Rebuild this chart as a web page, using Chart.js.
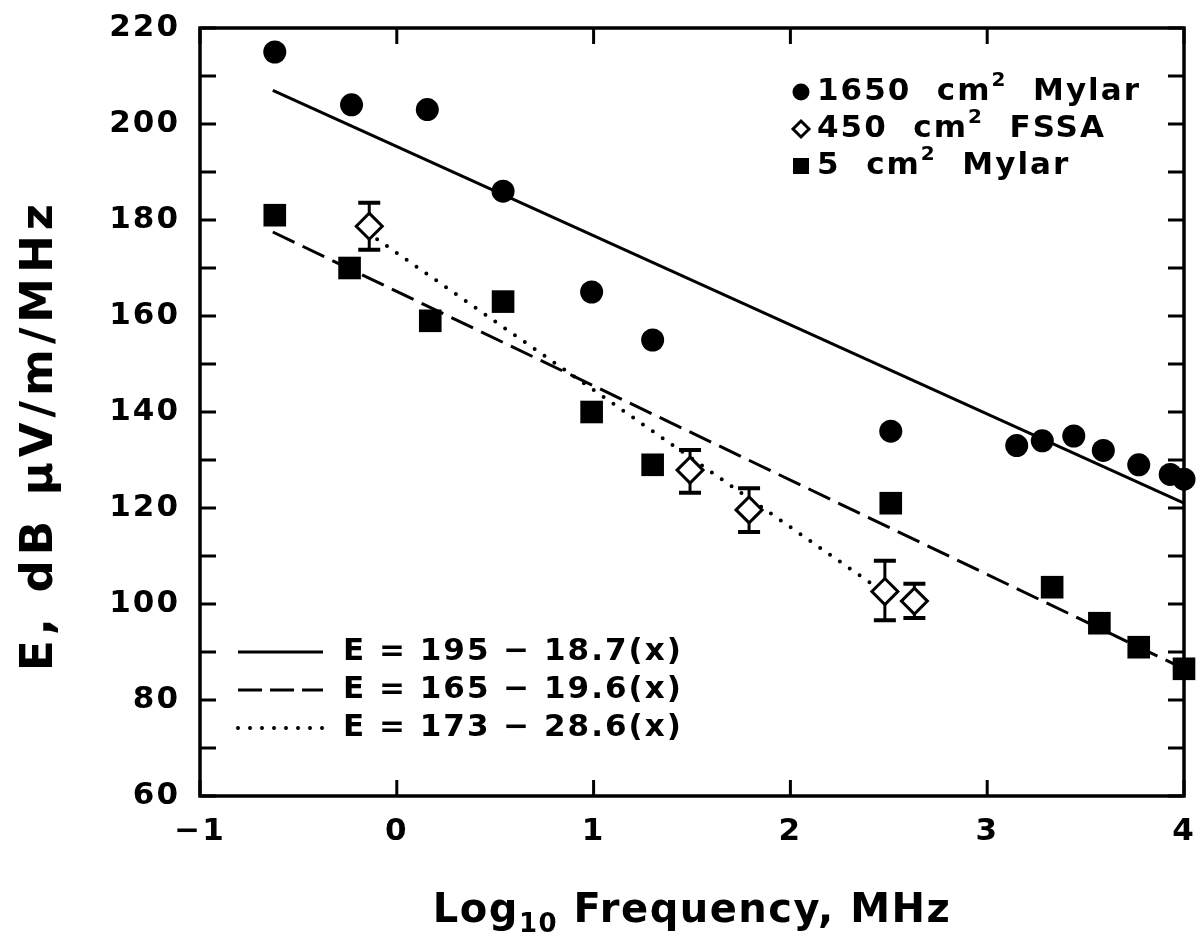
<!DOCTYPE html>
<html>
<head>
<meta charset="utf-8">
<title>E vs Log10 Frequency</title>
<script src="https://cdn.jsdelivr.net/npm/chart.js@4.4.1/dist/chart.umd.min.js"></script>
<style>
  html, body { margin: 0; padding: 0; background: #fff; }
  #chart { display: block; }
</style>
</head>
<body>
<canvas id="chart" width="1200" height="951"></canvas>
<script>
// Data
const mylar1650X = [-0.62, -0.23, 0.155, 0.54, 0.99, 1.30, 2.51, 3.15, 3.28, 3.44, 3.59, 3.77, 3.93, 4.00];
const mylar1650Y = [215, 204, 203, 186, 165, 155, 136, 133, 134, 135, 132, 129, 127, 126];

const mylar5X = [-0.62, -0.24, 0.17, 0.54, 0.99, 1.30, 2.51, 3.33, 3.57, 3.77, 4.00];
const mylar5Y = [181, 170, 159, 163, 140, 129, 121, 103.5, 96, 91, 86.5];

const fssaX = [-0.14, 1.49, 1.79, 2.48, 2.63];
const fssaY = [178.7, 127.9, 119.6, 102.6, 100.6];
const fssaLow = [173.8, 123.2, 115.0, 96.6, 97.1];
const fssaHigh = [183.6, 132.1, 124.1, 109.0, 104.2];

// Fit lines, end points
const fitSolidX = [-0.63, 4];
const fitSolidY = [207, 121];
const fitDashX = [-0.63, 4];
const fitDashY = [177.5, 86.5];
const fitDotX = [-0.1, 2.48];
const fitDotY = [176, 102.3];

// Axes
const xTicks = [-1, 0, 1, 2, 3, 4];
const yTicks = [60, 80, 100, 120, 140, 160, 180, 200, 220];
const yTickMarks = [60, 70, 80, 90, 100, 110, 120, 130, 140, 150, 160, 170, 180, 190, 200, 210, 220];

// Legend texts
const legendAreas = ['1650', '450', '5'];
const legendNames = ['Mylar', 'FSSA', 'Mylar'];
const fitLabels = ['E = 195 \u2212 18.7(x)', 'E = 165 \u2212 19.6(x)', 'E = 173 \u2212 28.6(x)'];

const FONT = '"DejaVu Sans", sans-serif';

const toXY = (xs, ys) => xs.map((x, i) => ({ x: x, y: ys[i] }));

// Draws a run of text pieces (for sub/superscripts)
const drawRich = (ctx, parts, x, y, align) => {
  let total = 0;
  parts.forEach(p => {
    ctx.font = `bold ${p.size}px ${FONT}`;
    p.w = ctx.measureText(p.t).width;
    total += p.w;
  });
  let cx = align === 'center' ? x - total / 2 : x;
  parts.forEach(p => {
    ctx.font = `bold ${p.size}px ${FONT}`;
    ctx.fillText(p.t, cx, y + (p.dy || 0));
    cx += p.w;
  });
};

const strokeSample = (ctx, style, x0, x1, y) => {
  ctx.save();
  ctx.strokeStyle = '#000';
  if (style === 'solid') {
    ctx.lineWidth = 3;
  } else if (style === 'dash') {
    ctx.lineWidth = 3;
    ctx.setLineDash([24, 8]);
  } else {
    ctx.lineWidth = 4;
    ctx.lineCap = 'round';
    ctx.setLineDash([0, 12]);
  }
  ctx.beginPath();
  ctx.moveTo(x0, y);
  ctx.lineTo(x1, y);
  ctx.stroke();
  ctx.restore();
};

const figurePlugin = {
  id: 'figure',
  beforeDraw: (chart) => {
    chart.ctx.letterSpacing = '2px';
  },
  // Error bars of the FSSA points
  beforeDatasetsDraw: (chart) => {
    const ctx = chart.ctx;
    const xs = chart.scales.x;
    const ys = chart.scales.y;
    ctx.save();
    ctx.strokeStyle = '#000';
    fssaX.forEach((v, i) => {
      const px = xs.getPixelForValue(v);
      const lo = ys.getPixelForValue(fssaLow[i]);
      const hi = ys.getPixelForValue(fssaHigh[i]);
      ctx.lineWidth = 3;
      ctx.beginPath();
      ctx.moveTo(px, lo);
      ctx.lineTo(px, hi);
      ctx.stroke();
      ctx.lineWidth = 4;
      ctx.beginPath();
      ctx.moveTo(px - 11, lo);
      ctx.lineTo(px + 11, lo);
      ctx.moveTo(px - 11, hi);
      ctx.lineTo(px + 11, hi);
      ctx.stroke();
    });
    ctx.restore();
  },
  afterDraw: (chart) => {
    const ctx = chart.ctx;
    const a = chart.chartArea;
    const xs = chart.scales.x;
    const ys = chart.scales.y;
    ctx.save();
    ctx.strokeStyle = '#000';
    ctx.fillStyle = '#000';

    // Frame
    ctx.lineWidth = 3.5;
    ctx.strokeRect(a.left, a.top, a.right - a.left, a.bottom - a.top);

    // Inward tick marks
    ctx.lineWidth = 3;
    ctx.beginPath();
    yTickMarks.forEach(v => {
      const py = ys.getPixelForValue(v);
      ctx.moveTo(a.left, py);
      ctx.lineTo(a.left + 16, py);
      ctx.moveTo(a.right, py);
      ctx.lineTo(a.right - 16, py);
    });
    xTicks.forEach(v => {
      const px = xs.getPixelForValue(v);
      ctx.moveTo(px, a.bottom);
      ctx.lineTo(px, a.bottom - 16);
      ctx.moveTo(px, a.top);
      ctx.lineTo(px, a.top + 16);
    });
    ctx.stroke();

    // Marker legend (top right)
    ctx.textBaseline = 'middle';
    ctx.textAlign = 'left';
    ctx.letterSpacing = '2px';
    const rowY = [92, 129, 166];
    const mx = 801;
    // circle
    ctx.beginPath();
    ctx.arc(mx, rowY[0], 8.5, 0, Math.PI * 2);
    ctx.fill();
    // diamond
    ctx.lineWidth = 3;
    ctx.fillStyle = '#fff';
    ctx.beginPath();
    ctx.moveTo(mx, rowY[1] - 8);
    ctx.lineTo(mx + 8, rowY[1]);
    ctx.lineTo(mx, rowY[1] + 8);
    ctx.lineTo(mx - 8, rowY[1]);
    ctx.closePath();
    ctx.fill();
    ctx.stroke();
    ctx.fillStyle = '#000';
    // square
    ctx.fillRect(mx - 8, rowY[2] - 8, 16, 16);
    legendAreas.forEach((t, i) => {
      drawRich(ctx, [
        { t: t + '  cm', size: 31 },
        { t: '2', size: 20, dy: -11 },
        { t: '  ' + legendNames[i], size: 31 }
      ], 817, rowY[i], 'left');
    });

    // Fit legend (bottom left)
    const fitY = [652, 690, 728];
    const styles = ['solid', 'dash', 'dot'];
    fitLabels.forEach((t, i) => {
      strokeSample(ctx, styles[i], 238, 323, fitY[i]);
      ctx.font = `bold 31px ${FONT}`;
      ctx.fillText(t, 343, fitY[i]);
    });

    // Axis titles
    ctx.letterSpacing = '1.5px';
    ctx.textBaseline = 'alphabetic';
    drawRich(ctx, [
      { t: 'Log', size: 40 },
      { t: '10', size: 26, dy: 10 },
      { t: ' Frequency, MHz', size: 40 }
    ], (a.left + a.right) / 2, 922, 'center');

    ctx.letterSpacing = '5px';
    ctx.translate(40, 435);
    ctx.rotate(-Math.PI / 2);
    ctx.textAlign = 'center';
    ctx.textBaseline = 'middle';
    ctx.font = `bold 45px ${FONT}`;
    ctx.fillText('E, dB \u00b5V/m/MHz', 0, 0);
    ctx.restore();
  }
};

new Chart(document.getElementById('chart'), {
  type: 'scatter',
  data: {
    datasets: [
      {
        label: '1650 cm2 Mylar',
        data: toXY(mylar1650X, mylar1650Y),
        pointStyle: 'circle',
        pointRadius: 11.5,
        backgroundColor: '#000',
        borderWidth: 0,
        clip: false
      },
      {
        label: '5 cm2 Mylar',
        data: toXY(mylar5X, mylar5Y),
        pointStyle: 'rect',
        pointRadius: 16,
        backgroundColor: '#000',
        borderWidth: 0,
        clip: false
      },
      {
        label: '450 cm2 FSSA',
        data: toXY(fssaX, fssaY),
        pointStyle: 'rectRot',
        pointRadius: 13,
        backgroundColor: '#fff',
        borderColor: '#000',
        borderWidth: 3,
        clip: false
      },
      {
        label: 'fit 1650',
        data: toXY(fitSolidX, fitSolidY),
        showLine: true,
        pointRadius: 0,
        borderColor: '#000',
        borderWidth: 3
      },
      {
        label: 'fit 5',
        data: toXY(fitDashX, fitDashY),
        showLine: true,
        pointRadius: 0,
        borderColor: '#000',
        borderWidth: 3,
        borderDash: [24, 9]
      },
      {
        label: 'fit FSSA',
        data: toXY(fitDotX, fitDotY),
        showLine: true,
        pointRadius: 0,
        borderColor: '#000',
        borderWidth: 4,
        borderCapStyle: 'round',
        borderDash: [0, 12]
      }
    ]
  },
  options: {
    responsive: false,
    devicePixelRatio: 1,
    animation: false,
    layout: { padding: { left: 0, right: 10, top: 28, bottom: 0 } },
    plugins: {
      legend: { display: false },
      tooltip: { enabled: false }
    },
    scales: {
      x: {
        type: 'linear',
        min: -1,
        max: 4,
        grid: { display: false, drawTicks: false },
        border: { display: false },
        afterBuildTicks: (s) => { s.ticks = xTicks.map(v => ({ value: v })); },
        afterFit: (s) => { s.height = 155; s.paddingLeft = 0; s.paddingRight = 0; },
        ticks: {
          color: '#000',
          padding: 17,
          font: { family: FONT, size: 31, weight: 'bold' },
          callback: (v) => v < 0 ? '\u2212' + Math.abs(v) : String(v)
        }
      },
      y: {
        type: 'linear',
        min: 60,
        max: 220,
        grid: { display: false, drawTicks: false },
        border: { display: false },
        afterBuildTicks: (s) => { s.ticks = yTicks.map(v => ({ value: v })); },
        afterFit: (s) => { s.width = 200; s.paddingTop = 0; s.paddingBottom = 0; },
        ticks: {
          color: '#000',
          padding: 20,
          font: { family: FONT, size: 31, weight: 'bold' }
        }
      }
    }
  },
  plugins: [figurePlugin]
});
</script>
</body>
</html>
